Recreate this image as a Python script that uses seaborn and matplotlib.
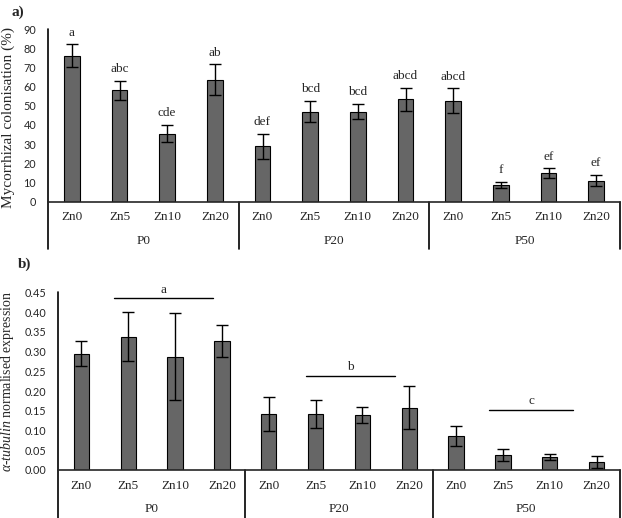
import numpy as np
import pandas as pd
import matplotlib
matplotlib.use("Agg")
import matplotlib.pyplot as plt
import seaborn as sns

# data
phosphorus = ["P0", "P20", "P50"]
zinc = ["Zn0", "Zn5", "Zn10", "Zn20"]

colon_mean = [76, 58, 35.5, 63.5, 29, 47, 47, 53.5, 52.5, 8.7, 15, 11]
colon_err = [6, 5, 4.5, 8, 6.5, 5.5, 4, 6, 6.5, 1.7, 2.5, 3]
colon_letters = ["a", "abc", "cde", "ab", "def", "bcd", "bcd", "abcd", "abcd", "f", "ef", "ef"]

tub_mean = [0.295, 0.338, 0.287, 0.326, 0.142, 0.142, 0.139, 0.158, 0.086, 0.038, 0.033, 0.021]
tub_err = [0.032, 0.063, 0.110, 0.041, 0.043, 0.036, 0.021, 0.055, 0.026, 0.015, 0.007, 0.015]
# significance groups: (line start, line end, height, letter)
tub_groups = [(0.7, 2.8, 0.435, "a"), (4.8, 6.7, 0.239, "b"), (8.7, 10.5, 0.153, "c")]

sns.set_style("white")
plt.rcParams["font.family"] = ["Liberation Serif", "DejaVu Serif"]
plt.rcParams["mathtext.fontset"] = "custom"
plt.rcParams["mathtext.rm"] = "Liberation Serif"
plt.rcParams["mathtext.it"] = "Liberation Serif:italic"

FIG_W, FIG_H = 622, 518
fig = plt.figure(figsize=(FIG_W / 100, FIG_H / 100), dpi=100)

labels = [f"{p}-{z}" for p in phosphorus for z in zinc]
TXT = 9.5


def panel(rect, means, errs, ylim, yticks, yfmt, ylabel, ylab_size, ylab_pos, sep_px):
    ax = fig.add_axes(rect)
    df = pd.DataFrame({"trt": labels, "val": means})
    sns.barplot(data=df, x="trt", y="val", order=labels, color="#666666",
                saturation=1, width=0.33, edgecolor="black", linewidth=0.8, ax=ax)
    ax.errorbar(np.arange(len(means)), means, yerr=errs, fmt="none",
                ecolor="black", elinewidth=1, capsize=4, capthick=1)
    ax.set_xlim(-0.5, len(means) - 0.5)
    ax.set_ylim(*ylim)
    ax.set_yticks(yticks)
    ax.set_yticklabels([yfmt.format(t) for t in yticks], family="Lato", fontsize=7.8)
    ax.set_xticks(range(len(means)))
    ax.set_xticklabels(zinc * 3, fontsize=TXT)
    ax.set_xlabel("")
    ax.set_ylabel(ylabel, fontsize=ylab_size)
    ax.yaxis.set_label_coords(*ylab_pos)
    ax.tick_params(axis="both", length=0)
    ax.tick_params(axis="x", pad=7)
    ax.tick_params(axis="y", pad=8.5)
    for s in ["top", "right", "left"]:
        ax.spines[s].set_visible(False)
    ax.spines["bottom"].set_linewidth(1.2)
    # multi-level category axis
    h_px = rect[3] * FIG_H
    low = -sep_px / h_px
    tr = ax.get_xaxis_transform()
    for x in [-0.5, 3.5, 7.5, 11.5]:
        top = 1 if x == -0.5 else 0
        ax.plot([x, x], [low, top], transform=tr, color="black", lw=1.2, clip_on=False)
    for i, p in enumerate(phosphorus):
        ax.text(1.5 + 4 * i, -39 / h_px, p, transform=tr, ha="center", va="center",
                fontsize=TXT)
    return ax


ax1 = panel([48 / 622, 1 - 201.7 / 518, 572 / 622, 172.7 / 518],
            colon_mean, colon_err, (0, 90), list(range(0, 91, 10)), "{:d}",
            "Mycorrhizal colonisation (%)", 11, (-33 / 572, 0.485), 47)
for i, (m, e, t) in enumerate(zip(colon_mean, colon_err, colon_letters)):
    ax1.annotate(t, (i, m + e), xytext=(0, 4), textcoords="offset points",
                 ha="center", va="bottom", fontsize=TXT)

ax2 = panel([58 / 622, 1 - 470 / 518, 562 / 622, 177.7 / 518],
            tub_mean, tub_err, (0, 0.45), [round(0.05 * k, 2) for k in range(10)], "{:.2f}",
            r"$\mathit{\alpha}$-$\mathit{tubulin}$ normalised expression", 10,
            (-42 / 562, 0.5), 50)
for x0, x1, y, t in tub_groups:
    ax2.plot([x0, x1], [y, y], color="black", lw=1)
    ax2.text((x0 + x1) / 2, y + 0.006, t, ha="center", va="bottom", fontsize=TXT)

fig.text(18 / 622, 1 - 12 / 518, "a)", fontweight="bold", fontsize=11, ha="center", va="center")
fig.text(25 / 622, 1 - 264 / 518, "b)", fontweight="bold", fontsize=11, ha="center", va="center")

fig.savefig("out.png", dpi=100)
